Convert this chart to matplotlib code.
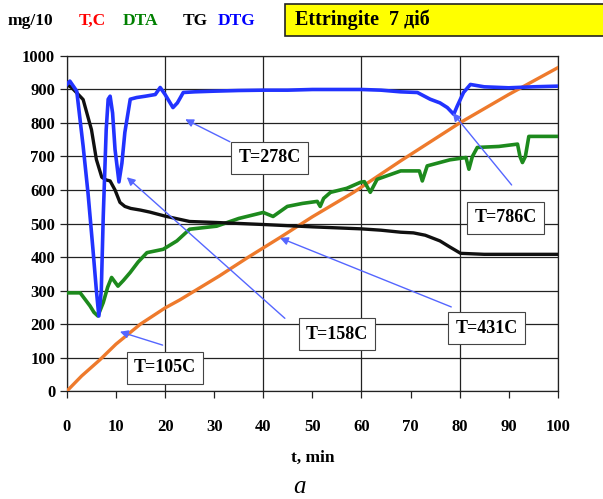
import matplotlib.pyplot as plt
from matplotlib.ticker import MultipleLocator, FormatStrFormatter

# curve data (time in min, value in mg/10 scale)
t_T = [0, 3, 6.7, 10, 15, 20, 23, 31, 37, 43.5, 50, 58.4, 68, 80, 90, 100]
T = [0, 45, 93, 140, 200, 248, 272, 343, 400, 459, 520, 593, 687, 800, 885, 965]

t_TG = [0, 1, 2, 3.3, 5, 6, 7.1, 8, 8.8, 9.8, 10.8, 11.8, 13, 15, 16.9, 20, 25, 30.5,
        40, 50, 60, 64, 68, 70.6, 73, 76, 78, 80.2, 85, 90, 100]
TG = [915, 905, 890, 870, 780, 691, 638, 630, 627, 600, 563, 551, 545, 540, 534, 522, 506, 503,
      497, 490, 484, 480, 474, 472, 465, 448, 430, 411, 408, 408, 408]

t_DTG = [0, 0.6, 2, 3.3, 4.3, 5.3, 6, 6.5, 7, 7.4, 8, 8.4, 8.8, 9.3, 9.8, 10.6, 11.2, 11.8,
         12.9, 14.2, 16, 18, 19, 20, 21.6, 22.5, 23.7, 26, 30, 35, 40, 45, 50, 55, 60, 64,
         68, 71.4, 74, 76, 77.5, 78.8, 79.5, 80.8, 82.2, 85, 90, 95, 100]
DTG = [915, 925, 895, 731, 590, 423, 300, 224, 300, 522, 780, 871, 880, 830, 721, 624, 680, 772,
       871, 876, 880, 885, 906, 885, 846, 860, 891, 893, 895, 897, 898, 898, 900, 900, 900, 898,
       893, 891, 871, 860, 846, 826, 850, 891, 915, 908, 905, 908, 910]

t_DTA = [0, 2.7, 4.7, 5.5, 6.3, 7.4, 8.3, 9.1, 10.4, 11.5, 12.9, 14.5, 16.3, 19.6, 22.4, 25,
         30.5, 35, 40, 42, 44.9, 48, 51, 51.6, 52.3, 53.7, 57, 59.8, 60.6, 61.8, 63.2, 68, 71.8,
         72.4, 73.4, 78, 81.3, 81.9, 82.6, 83.6, 88, 91.8, 92.3, 92.8, 93.4, 94.1, 100]
DTA = [293, 293, 254, 235, 224, 264, 310, 339, 313, 330, 354, 385, 413, 423, 448, 483,
       492, 515, 533, 521, 551, 560, 566, 551, 575, 593, 605, 623, 625, 593, 632, 657, 657,
       627, 672, 690, 697, 662, 700, 727, 730, 737, 700, 682, 700, 760, 760]

# peak labels: text, text position, arrow tip, arrow tail
labels = ["T=105C", "T=158C", "T=278C", "T=431C", "T=786C"]
label_pos = [(20, 69), (55, 170), (41.3, 696), (85.5, 188), (89.4, 517)]
arrow_tip = [(10.8, 177), (12.2, 638), (24.1, 811), (43.4, 457), (78.6, 830)]
arrow_tail = [(19.5, 137), (44.4, 217), (33.2, 744), (78.3, 251), (90.6, 615)]

plt.rcParams['font.family'] = ['Liberation Serif', 'DejaVu Serif']
plt.rcParams['font.weight'] = 'bold'

fig = plt.figure(figsize=(6.03, 4.99), dpi=100)
ax = fig.add_axes([0.111, 0.2164, 0.814, 0.6714])

ax.plot(t_T, T, color='#ee7a2c', lw=2.4, zorder=3)
ax.plot(t_DTA, DTA, color='#1d8a1d', lw=2.6, zorder=3)
ax.plot(t_TG, TG, color='#101010', lw=2.4, zorder=3)
ax.plot(t_DTG, DTG, color='#2233ff', lw=2.6, zorder=4)

for txt, p, tip, tail in zip(labels, label_pos, arrow_tip, arrow_tail):
    ax.annotate('', xy=tip, xytext=tail,
                arrowprops=dict(arrowstyle='-|>', color='#5566ff', lw=1.0,
                                mutation_scale=12, shrinkA=0, shrinkB=0), zorder=5)
    ax.text(p[0], p[1], txt, ha='center', va='center', fontsize=13, fontweight='bold',
            bbox=dict(boxstyle='square,pad=0.4', fc='white', ec='#444444', lw=0.8), zorder=6)

ax.set_xlim(0, 100)
ax.set_ylim(0, 1000)
ax.xaxis.set_major_locator(MultipleLocator(20))
ax.xaxis.set_minor_locator(MultipleLocator(10))
ax.xaxis.set_minor_formatter(FormatStrFormatter('%d'))
ax.yaxis.set_major_locator(MultipleLocator(100))
ax.grid(True, which='major', color='#222222', lw=0.9)
ax.set_axisbelow(True)
ax.tick_params(axis='both', which='both', labelsize=12, direction='out', length=5, width=0.9,
               color='#222222')
ax.tick_params(axis='x', which='both', pad=15)
for sp in ax.spines.values():
    sp.set_color('#222222')
    sp.set_linewidth(0.9)
for lab in ax.get_xticklabels(which='both') + ax.get_yticklabels():
    lab.set_fontweight('bold')

ax.set_xlabel('t, min', fontsize=12.5, fontweight='bold', labelpad=11)

fig.text(8 / 603, 1 - 21 / 499, 'mg/10', fontsize=12.5, fontweight='bold', va='center')
fig.text(79 / 603, 1 - 21 / 499, 'T,C', fontsize=12.5, fontweight='bold', va='center', color='#ff0000')
fig.text(123 / 603, 1 - 21 / 499, 'DTA', fontsize=12.5, fontweight='bold', va='center', color='#008000')
fig.text(183 / 603, 1 - 21 / 499, 'TG', fontsize=12.5, fontweight='bold', va='center', color='black')
fig.text(218 / 603, 1 - 21 / 499, 'DTG', fontsize=12.5, fontweight='bold', va='center', color='#0000ff')

fig.patches.append(plt.Rectangle((285 / 603, 1 - 36 / 499), 330 / 603, 32 / 499,
                                 transform=fig.transFigure, fc='#ffff00', ec='#222222', lw=1.2))
fig.text(295 / 603, 1 - 20 / 499, 'Ettringite  7 діб', fontsize=14.5, fontweight='bold', va='center')

fig.text(299 / 603, 1 - 487 / 499, 'a', fontsize=18, style='italic', fontweight='normal',
         ha='center', va='center')

fig.savefig('out.png', dpi=100)
